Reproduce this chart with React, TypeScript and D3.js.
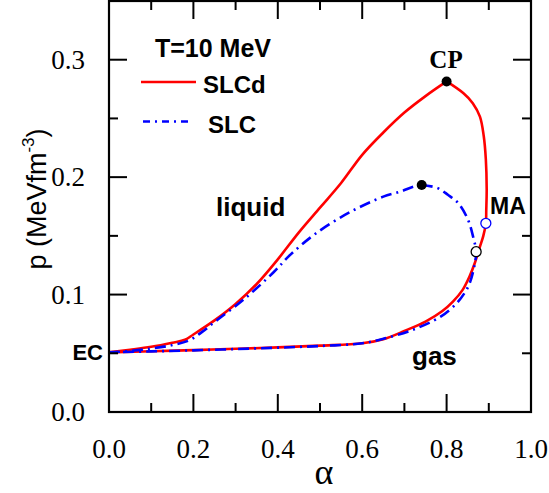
import React from "react";
import * as d3 from "d3";

const W = 549;
const H = 493;

// SLCd (red): liquid branch EC -> CP, then gas branch CP -> EC
const slcdUpperAlpha = [0, 0.05, 0.10, 0.15, 0.18, 0.20, 0.25, 0.30, 0.35, 0.40, 0.45, 0.50, 0.55, 0.60, 0.65, 0.70, 0.75, 0.80];
const slcdUpperP = [0.0508, 0.053, 0.0555, 0.059, 0.0615, 0.066, 0.078, 0.092, 0.109, 0.130, 0.153, 0.174, 0.195, 0.219, 0.238, 0.255, 0.269, 0.2815];
const slcdLowerAlpha = [0.80, 0.84, 0.862, 0.879, 0.888, 0.893, 0.895, 0.894, 0.893, 0.887, 0.879, 0.866, 0.855, 0.838, 0.815, 0.79, 0.75, 0.70, 0.65, 0.60, 0.50, 0.40, 0.30, 0.20, 0.10, 0.0];
const slcdLowerP = [0.2815, 0.2714, 0.263, 0.2515, 0.235, 0.215, 0.19, 0.172, 0.1607, 0.150, 0.1408, 0.126, 0.116, 0.104, 0.094, 0.086, 0.077, 0.069, 0.062, 0.0585, 0.0565, 0.055, 0.0538, 0.0527, 0.0517, 0.0508];

// SLC (blue dash-dot)
const slcUpperAlpha = [0, 0.05, 0.10, 0.15, 0.19, 0.22, 0.255, 0.32, 0.39, 0.43, 0.49, 0.57, 0.65, 0.69, 0.721, 0.741];
const slcUpperP = [0.0508, 0.052, 0.054, 0.057, 0.061, 0.068, 0.078, 0.096, 0.119, 0.134, 0.152, 0.170, 0.1834, 0.1876, 0.1919, 0.1933];
const slcLowerAlpha = [0.741, 0.778, 0.803, 0.828, 0.851, 0.863, 0.870, 0.867, 0.855, 0.842, 0.822, 0.785, 0.72, 0.652, 0.60, 0.50, 0.40, 0.30, 0.20, 0.10, 0];
const slcLowerP = [0.1933, 0.1908, 0.185, 0.1777, 0.1635, 0.149, 0.1365, 0.1266, 0.110, 0.101, 0.092, 0.081, 0.070, 0.0625, 0.0585, 0.0562, 0.0548, 0.0536, 0.0525, 0.0516, 0.0508];

// special points
const cpSLCd = [0.80, 0.2815];
const cpSLC = [0.741, 0.1933];
const maSLCd = [0.893, 0.1607];
const maSLC = [0.870, 0.1365];

const xMajor = [0, 0.2, 0.4, 0.6, 0.8, 1.0];
const xMinor = [0.1, 0.3, 0.5, 0.7, 0.9];
const yMajor = [0.0, 0.1, 0.2, 0.3];
const yMinor = [0.05, 0.15, 0.25];

const SANS = "'Liberation Sans', Arial, sans-serif";
const SERIF = "'Liberation Serif', 'Times New Roman', serif";

export default function App() {
  const left = 109, right = 531, top = 1, bottom = 412;
  const x = d3.scaleLinear().domain([0, 1]).range([left, right]);
  const y = d3.scaleLinear().domain([0, 0.35]).range([bottom, top]);

  const line = d3
    .line<[number, number]>()
    .x((d) => x(d[0]))
    .y((d) => y(d[1]))
    .curve(d3.curveCatmullRom.alpha(0.5));

  const zip = (a: number[], b: number[]) => a.map((v, i) => [v, b[i]] as [number, number]);

  const majLen = 18, minLen = 9;
  const ticks: JSX.Element[] = [];
  xMajor.forEach((v, i) => {
    if (v <= 0 || v >= 1) return;
    ticks.push(<line key={"xb" + i} x1={x(v)} x2={x(v)} y1={bottom} y2={bottom - majLen} />);
    ticks.push(<line key={"xt" + i} x1={x(v)} x2={x(v)} y1={top} y2={top + majLen} />);
  });
  xMinor.forEach((v, i) => {
    ticks.push(<line key={"xbm" + i} x1={x(v)} x2={x(v)} y1={bottom} y2={bottom - minLen} />);
    ticks.push(<line key={"xtm" + i} x1={x(v)} x2={x(v)} y1={top} y2={top + minLen} />);
  });
  yMajor.forEach((v, i) => {
    if (v <= 0) return;
    ticks.push(<line key={"yl" + i} x1={left} x2={left + majLen} y1={y(v)} y2={y(v)} />);
    ticks.push(<line key={"yr" + i} x1={right} x2={right - majLen} y1={y(v)} y2={y(v)} />);
  });
  yMinor.forEach((v, i) => {
    ticks.push(<line key={"ylm" + i} x1={left} x2={left + minLen} y1={y(v)} y2={y(v)} />);
    ticks.push(<line key={"yrm" + i} x1={right} x2={right - minLen} y1={y(v)} y2={y(v)} />);
  });

  const dash = "11,5,2,5";

  return (
    <svg
      width={W}
      height={H}
      viewBox={`0 0 ${W} ${H}`}
      style={{ position: "absolute", left: 0, top: 0, background: "#fff" }}
    >
      <rect x={0} y={0} width={W} height={H} fill="#fff" />

      {/* curves */}
      <g fill="none" strokeLinejoin="round">
        <path d={line(zip(slcdUpperAlpha, slcdUpperP)) || ""} stroke="#ff0000" strokeWidth={2.6} />
        <path d={line(zip(slcdLowerAlpha, slcdLowerP)) || ""} stroke="#ff0000" strokeWidth={2.6} />
        <path d={line(zip(slcUpperAlpha, slcUpperP)) || ""} stroke="#0000ff" strokeWidth={2.6} strokeDasharray={dash} />
        <path d={line(zip(slcLowerAlpha, slcLowerP)) || ""} stroke="#0000ff" strokeWidth={2.6} strokeDasharray={dash} />
      </g>

      {/* markers */}
      <circle cx={x(cpSLCd[0])} cy={y(cpSLCd[1])} r={5} fill="#000" />
      <circle cx={x(cpSLC[0])} cy={y(cpSLC[1])} r={5} fill="#000" />
      <circle cx={x(maSLCd[0])} cy={y(maSLCd[1])} r={5} fill="#fff" stroke="#0000ff" strokeWidth={1.3} />
      <circle cx={x(maSLC[0])} cy={y(maSLC[1])} r={5} fill="#fff" stroke="#000" strokeWidth={1.3} />

      {/* frame & ticks */}
      <rect x={left} y={top} width={right - left} height={bottom - top} fill="none" stroke="#000" strokeWidth={2.2} />
      <g stroke="#000" strokeWidth={2}>{ticks}</g>

      {/* tick labels */}
      <g fontFamily={SERIF} fontSize={27} fill="#000">
        {xMajor.map((v, i) => (
          <text key={"xl" + i} x={x(v)} y={458} textAnchor="middle">
            {v.toFixed(1)}
          </text>
        ))}
        {yMajor.map((v, i) => (
          <text key={"yl" + i} x={85} y={y(v) + 9} textAnchor="end">
            {v.toFixed(1)}
          </text>
        ))}
      </g>

      {/* axis titles */}
      <text x={324} y={484} textAnchor="middle" fontFamily={SERIF} fontSize={36} fill="#000">
        α
      </text>
      <text
        transform="translate(46,199) rotate(-90)"
        textAnchor="middle"
        fontFamily={SANS}
        fontSize={27}
        fill="#000"
      >
        p (MeVfm
        <tspan dy={-12} fontSize={17}>-3</tspan>
        <tspan dy={12}>)</tspan>
      </text>

      {/* legend */}
      <text x={155} y={57} fontFamily={SANS} fontWeight="bold" fontSize={25} fill="#000">
        T=10 MeV
      </text>
      <line x1={141} x2={196} y1={82} y2={82} stroke="#ff0000" strokeWidth={2.6} />
      <text x={203} y={93} fontFamily={SANS} fontWeight="bold" fontSize={24} fill="#000">
        SLCd
      </text>
      <line x1={143} x2={189} y1={121.5} y2={121.5} stroke="#0000ff" strokeWidth={2.6} strokeDasharray="7,5,2,5" />
      <text x={208} y={133} fontFamily={SANS} fontWeight="bold" fontSize={24} fill="#000">
        SLC
      </text>

      {/* annotations */}
      <text x={446} y={68} textAnchor="middle" fontFamily={SERIF} fontWeight="bold" fontSize={25} fill="#000">
        CP
      </text>
      <text x={490} y={214} fontFamily={SANS} fontWeight="bold" fontSize={23} fill="#000">
        MA
      </text>
      <text x={216} y={216} fontFamily={SANS} fontWeight="bold" fontSize={26} fill="#000">
        liquid
      </text>
      <text x={412} y={365} fontFamily={SANS} fontWeight="bold" fontSize={26} fill="#000">
        gas
      </text>
      <text x={103} y={360} textAnchor="end" fontFamily={SANS} fontWeight="bold" fontSize={22} fill="#000">
        EC
      </text>
    </svg>
  );
}
